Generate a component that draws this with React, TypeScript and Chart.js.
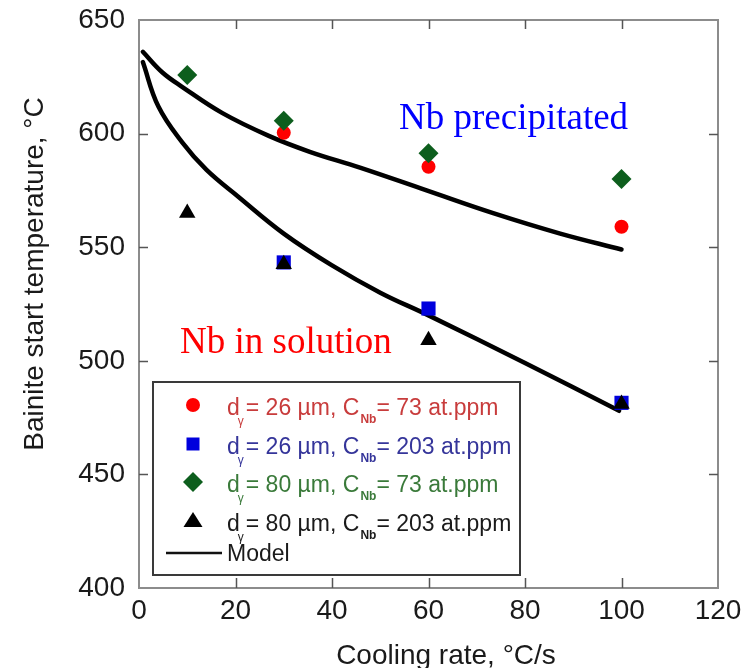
import React, { useEffect, useRef } from "react";
import { Chart, registerables } from "chart.js";

Chart.register(...registerables);

// ---- data ----
const xTickValues = [0, 20, 40, 60, 80, 100, 120];
const yTickValues = [400, 450, 500, 550, 600, 650];

const redCircleX = [30, 60, 100];
const redCircleY = [600.4, 585.4, 559];

const blueSquareX = [30, 60, 100];
const blueSquareY = [543.3, 523, 481.5];

const greenDiamondX = [10, 30, 60, 100];
const greenDiamondY = [625.8, 605.7, 591.3, 580];

const blackTriangleX = [10, 30, 60, 100];
const blackTriangleY = [565, 542.5, 509, 481];

const modelUpperX = [0.8, 4.8, 9, 17.3, 26.9, 35.4, 45.8, 59.6, 73.4, 87.3, 100];
const modelUpperY = [636, 627, 620.5, 609, 599, 592, 585, 575, 565, 556, 549];

const modelLowerX = [0.8, 4, 9, 14, 20.7, 30, 40, 50, 60, 80, 99.5];
const modelLowerY = [631.5, 612, 596, 584, 572, 556, 542, 530, 520, 499, 478];

const legendRows = [
  { d: "26", c: "73", text: "#c83c3c", marker: "circle", color: "#ff0000" },
  { d: "26", c: "203", text: "#35359a", marker: "rect", color: "#0000dd" },
  { d: "80", c: "73", text: "#3a7a3a", marker: "diamond", color: "#0d5e1d" },
  { d: "80", c: "203", text: "#1a1a1a", marker: "triangle", color: "#000000" },
];

const xTitle = "Cooling rate, °C/s";
const yTitle = "Bainite start temperature, °C";
const notePrecip = "Nb precipitated";
const noteSolution = "Nb in solution";

const SANS = '"Liberation Sans", Arial, sans-serif';
const SERIF = '"Liberation Serif", "Times New Roman", serif';

const zip = (xs: number[], ys: number[]) => xs.map((x, i) => ({ x, y: ys[i] }));

function drawMarker(ctx: CanvasRenderingContext2D, kind: string, x: number, y: number, color: string) {
  ctx.save();
  ctx.fillStyle = color;
  ctx.beginPath();
  if (kind === "circle") {
    ctx.arc(x, y, 7, 0, Math.PI * 2);
  } else if (kind === "rect") {
    ctx.rect(x - 6.5, y - 6.5, 13, 13);
  } else if (kind === "diamond") {
    ctx.moveTo(x, y - 10);
    ctx.lineTo(x + 10, y);
    ctx.lineTo(x, y + 10);
    ctx.lineTo(x - 10, y);
    ctx.closePath();
  } else {
    ctx.moveTo(x, y - 9);
    ctx.lineTo(x + 9.5, y + 6);
    ctx.lineTo(x - 9.5, y + 6);
    ctx.closePath();
  }
  ctx.fill();
  ctx.restore();
}

const decorPlugin = {
  id: "decor",
  beforeDatasetsDraw(chart: any) {
    const { ctx, chartArea: a, scales } = chart;
    const xs = scales.x;
    const ys = scales.y;
    ctx.save();
    ctx.strokeStyle = "#8c8c8c";
    ctx.lineWidth = 2;
    ctx.strokeRect(a.left, a.top, a.right - a.left, a.bottom - a.top);
    ctx.strokeStyle = "#555";
    ctx.lineWidth = 1.5;
    ctx.beginPath();
    xTickValues.slice(1, -1).forEach((v) => {
      const px = Math.round(xs.getPixelForValue(v)) + 0.5;
      ctx.moveTo(px, a.bottom);
      ctx.lineTo(px, a.bottom - 10);
      ctx.moveTo(px, a.top);
      ctx.lineTo(px, a.top + 9);
    });
    yTickValues.slice(1, -1).forEach((v) => {
      const py = Math.round(ys.getPixelForValue(v)) + 0.5;
      ctx.moveTo(a.left, py);
      ctx.lineTo(a.left + 9, py);
      ctx.moveTo(a.right, py);
      ctx.lineTo(a.right - 9, py);
    });
    ctx.stroke();
    ctx.restore();
  },
  afterDraw(chart: any) {
    const { ctx } = chart;
    ctx.save();
    ctx.fillStyle = "#1a1a1a";
    ctx.font = `28px ${SANS}`;
    ctx.textAlign = "center";
    ctx.textBaseline = "alphabetic";
    ctx.fillText(xTitle, 446, 664);
    ctx.save();
    ctx.translate(35, 274);
    ctx.rotate(-Math.PI / 2);
    ctx.textBaseline = "middle";
    ctx.fillText(yTitle, 0, 0);
    ctx.restore();

    ctx.textAlign = "left";
    ctx.textBaseline = "alphabetic";
    ctx.font = `37px ${SERIF}`;
    ctx.fillStyle = "#0000ff";
    ctx.fillText(notePrecip, 399, 129);
    ctx.fillStyle = "#ff0000";
    ctx.fillText(noteSolution, 180, 353);

    const bx = 153, by = 382, bw = 367, bh = 193;
    ctx.fillStyle = "#ffffff";
    ctx.fillRect(bx, by, bw, bh);
    ctx.strokeStyle = "#3a3a3a";
    ctx.lineWidth = 2;
    ctx.strokeRect(bx, by, bw, bh);

    const rowY = [405, 444, 482, 521];
    legendRows.forEach((r, i) => {
      const cy = rowY[i];
      drawMarker(ctx, r.marker, 193, cy, r.color);
      const base = cy + 10;
      let x = 227;
      ctx.fillStyle = r.text;
      ctx.font = `23px ${SANS}`;
      ctx.fillText("d", x, base);
      x += ctx.measureText("d").width;
      ctx.font = `12px ${SANS}`;
      ctx.fillText("γ", x - 2, base + 10);
      x += 6;
      ctx.font = `23px ${SANS}`;
      const mid = `= ${r.d} µm, C`;
      ctx.fillText(mid, x, base);
      x += ctx.measureText(mid).width + 1;
      ctx.font = `bold 12px ${SANS}`;
      ctx.fillText("Nb", x, base + 8);
      x += ctx.measureText("Nb").width;
      ctx.font = `23px ${SANS}`;
      ctx.fillText(`= ${r.c} at.ppm`, x, base);
    });
    ctx.strokeStyle = "#111";
    ctx.lineWidth = 2.5;
    ctx.beginPath();
    ctx.moveTo(166, 553);
    ctx.lineTo(222, 553);
    ctx.stroke();
    ctx.fillStyle = "#1a1a1a";
    ctx.font = `23px ${SANS}`;
    ctx.fillText("Model", 227, 561);
    ctx.restore();
  },
};

export default function App() {
  const canvasRef = useRef<HTMLCanvasElement | null>(null);

  useEffect(() => {
    const canvas = canvasRef.current;
    if (!canvas) return;
    const chart = new Chart(canvas, {
      type: "scatter",
      data: {
        datasets: [
          {
            label: "Model upper",
            data: zip(modelUpperX, modelUpperY),
            showLine: true,
            borderColor: "#000",
            borderWidth: 4.5,
            pointRadius: 0,
            tension: 0.4,
            borderCapStyle: "round",
            order: 5,
          } as any,
          {
            label: "Model lower",
            data: zip(modelLowerX, modelLowerY),
            showLine: true,
            borderColor: "#000",
            borderWidth: 4.5,
            pointRadius: 0,
            tension: 0.4,
            borderCapStyle: "round",
            order: 5,
          } as any,
          {
            label: "d=26, C=73",
            data: zip(redCircleX, redCircleY),
            pointStyle: "circle",
            pointRadius: 7,
            backgroundColor: "#ff0000",
            borderWidth: 0,
            order: 2,
          },
          {
            label: "d=26, C=203",
            data: zip(blueSquareX, blueSquareY),
            pointStyle: "rect",
            pointRadius: 10,
            backgroundColor: "#0000dd",
            borderWidth: 0,
            order: 2,
          },
          {
            label: "d=80, C=73",
            data: zip(greenDiamondX, greenDiamondY),
            pointStyle: "rectRot",
            pointRadius: 10,
            backgroundColor: "#0d5e1d",
            borderWidth: 0,
            order: 1,
          },
          {
            label: "d=80, C=203",
            data: zip(blackTriangleX, blackTriangleY),
            pointStyle: "triangle",
            pointRadius: 9.5,
            backgroundColor: "#000000",
            borderWidth: 0,
            order: 1,
          },
        ],
      },
      options: {
        responsive: false,
        animation: false,
        devicePixelRatio: 1,
        layout: { padding: { top: 20, right: 35, left: 0, bottom: 0 } },
        plugins: {
          legend: { display: false },
          tooltip: { enabled: false },
        },
        scales: {
          x: {
            type: "linear",
            min: 0,
            max: 120,
            afterBuildTicks: (s: any) => {
              s.ticks = xTickValues.map((v) => ({ value: v }));
            },
            afterFit: (s: any) => {
              s.height = 80;
              s.paddingLeft = 0;
              s.paddingRight = 0;
            },
            grid: { display: false, drawTicks: false },
            border: { display: false },
            ticks: {
              padding: 6,
              color: "#1a1a1a",
              font: { family: SANS, size: 28 },
              maxRotation: 0,
            },
          },
          y: {
            type: "linear",
            min: 400,
            max: 650,
            afterBuildTicks: (s: any) => {
              s.ticks = yTickValues.map((v) => ({ value: v }));
            },
            afterFit: (s: any) => {
              s.width = 139;
              s.paddingTop = 0;
              s.paddingBottom = 0;
            },
            grid: { display: false, drawTicks: false },
            border: { display: false },
            ticks: {
              padding: 14,
              color: "#1a1a1a",
              font: { family: SANS, size: 28 },
            },
          },
        },
      },
      plugins: [decorPlugin],
    });
    return () => chart.destroy();
  }, []);

  return (
    <div style={{ position: "fixed", left: 0, top: 0, width: 753, height: 668, background: "#fff" }}>
      <canvas ref={canvasRef} width={753} height={668} style={{ width: 753, height: 668, display: "block" }} />
    </div>
  );
}
